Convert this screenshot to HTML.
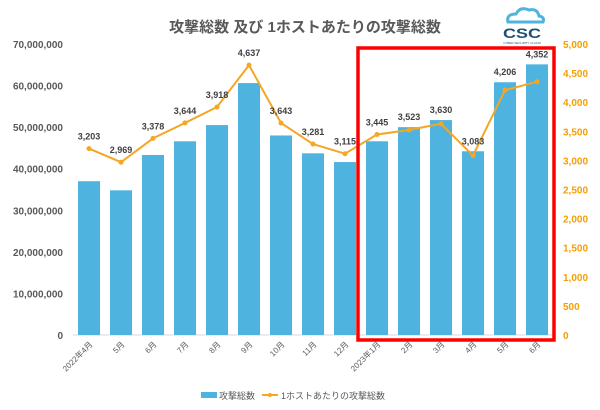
<!DOCTYPE html>
<html><head><meta charset="utf-8"><style>
body{margin:0;background:#fff;}
svg text{font-family:"Liberation Sans","Noto Sans CJK JP",sans-serif;}
</style></head><body>
<svg id="c" width="600" height="405" viewBox="0 0 600 405" xmlns="http://www.w3.org/2000/svg">
<text x="305" y="32" text-anchor="middle" font-size="15" font-weight="bold" fill="#595959">攻撃総数 及び 1ホストあたりの攻撃総数</text>
<g>
<path d="M508 22 q-2 -8 8 -8 q4 -8 13 -4 q8 -2 10 6 q6 1 4 6 z" fill="none" stroke="#4fb3e0" stroke-width="3"/>
<text x="522" y="38" text-anchor="middle" font-size="14" font-weight="bold" fill="#1f4e79" textLength="38" lengthAdjust="spacingAndGlyphs">CSC</text>
<text x="522" y="44" text-anchor="middle" font-size="3" fill="#1f4e79">CYBER SECURITY CLOUD</text>
</g>
<g id="plot"></g>
<rect x="358" y="48" width="196" height="292" fill="none" stroke="#ff0000" stroke-width="3.5"/>
<g>
<rect x="201" y="392" width="16" height="6" fill="#4fb3e0"/>
<text x="219" y="399" font-size="9" fill="#595959">攻撃総数</text>
<line x1="262" y1="395" x2="278" y2="395" stroke="#f5a623" stroke-width="2"/>
<circle cx="270" cy="395" r="2" fill="#f5a623"/>
<text x="281" y="399" font-size="9" fill="#595959">1ホストあたりの攻撃総数</text>
</g>
</svg>
<script>
const categories=["2022年4月","5月","6月","7月","8月","9月","10月","11月","12月","2023年1月","2月","3月","4月","5月","6月"];
const totalAttacks=[37000000,34800000,43300000,46600000,50500000,60600000,48000000,43700000,41600000,46600000,50000000,51700000,44200000,60800000,65100000];
const perHost=[3203,2969,3378,3644,3918,4637,3643,3281,3115,3445,3523,3630,3083,4206,4352];
const leftTicks=[0,10000000,20000000,30000000,40000000,50000000,60000000,70000000];
const rightTicks=[0,500,1000,1500,2000,2500,3000,3500,4000,4500,5000];
const NS="http://www.w3.org/2000/svg";
const g=document.getElementById('plot');
const X0=73,X1=553,Y0=335,Y1=44;
const step=(X1-X0)/categories.length;
const xc=i=>X0+step*(i+0.5);
const yl=v=>Y0-(v/70000000)*(Y0-Y1);
const yr=v=>Y0-(v/5000)*(Y0-Y1);
function mk(t,a,txt){const e=document.createElementNS(NS,t);for(const k in a)e.setAttribute(k,a[k]);if(txt!=null)e.textContent=txt;g.appendChild(e);return e;}
leftTicks.forEach(v=>{
const t=mk('text',{x:63,y:yl(v)+4,'text-anchor':'end','font-size':10,'font-weight':'bold',fill:'#595959'},v.toLocaleString('en-US'));


});
rightTicks.forEach(v=>{
const t=mk('text',{x:563,y:yr(v)+4,'font-size':10,'font-weight':'bold',fill:'#f5a000'},v.toLocaleString('en-US'));


});
const ax=mk('line',{x1:X0,y1:Y0,x2:X1,y2:Y0,stroke:'#d9d9d9'});


totalAttacks.forEach((v,i)=>{
const r=mk('rect',{x:xc(i)-11,y:yl(v),width:22,height:Y0-yl(v),fill:'#4fb3e0'});


});
categories.forEach((c,i)=>{
const x=xc(i),y=Y0+10;
const t=mk('text',{x:x+4,y:y,'text-anchor':'end','font-size':8,fill:'#595959',transform:`rotate(-45 ${x+4} ${y})`},c);


});
const pts=perHost.map((v,i)=>xc(i)+','+yr(v)).join(' ');
const pl=mk('polyline',{points:pts,fill:'none',stroke:'#f5a623','stroke-width':2});


perHost.forEach((v,i)=>{
const c=mk('circle',{cx:xc(i),cy:yr(v),r:2.5,fill:'#f5a623'});


let ly=yr(v)-9;
if(yr(v)>yl(totalAttacks[i])) ly=Math.min(ly,yl(totalAttacks[i])-7);
const t=mk('text',{x:xc(i),y:ly,'text-anchor':'middle','font-size':9,'font-weight':'bold',fill:'#404040'},v.toLocaleString('en-US'));


});
</script>
</body></html>
